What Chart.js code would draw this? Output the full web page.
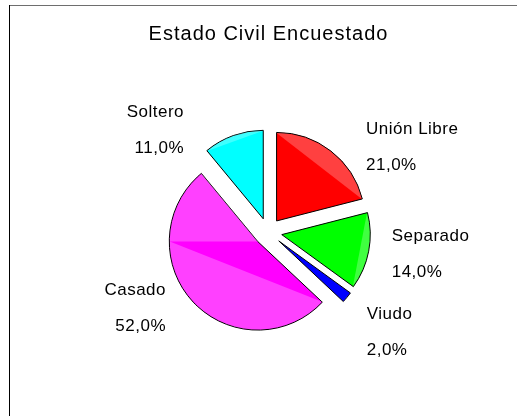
<!DOCTYPE html>
<html>
<head>
<meta charset="utf-8">
<script src="https://cdn.jsdelivr.net/npm/chart.js@4.4.0/dist/chart.umd.min.js"></script>
<style>
  html, body { margin: 0; padding: 0; background: #fff; }
  canvas { display: block; }
</style>
</head>
<body>
<canvas id="c" width="517" height="416"></canvas>
<script>
// Survey data: marital status of respondents (percent)
const categories = ['Unión Libre', 'Separado', 'Viudo', 'Casado', 'Soltero'];
const percentages = [21.0, 14.0, 2.0, 52.0, 11.0];
const sliceColors = ['#ff0000', '#00ff00', '#0000ff', '#ff00ff', '#00ffff'];
const chartTitle = 'Estado Civil Encuestado';

const FONT = '"Liberation Sans", Arial, Helvetica, sans-serif';
const fmtPct = v => v.toFixed(1).replace('.', ',') + '%';

// Thin frame around the plot (top edge grey, left edge black)
const framePlugin = {
  id: 'frame',
  beforeDraw(chart) {
    const ctx = chart.ctx;
    ctx.save();
    ctx.fillStyle = '#ffffff';
    ctx.fillRect(0, 0, chart.width, chart.height);
    ctx.lineWidth = 1;
    ctx.strokeStyle = '#6e6e6e';
    ctx.beginPath(); ctx.moveTo(9, 5.5); ctx.lineTo(chart.width, 5.5); ctx.stroke();
    ctx.strokeStyle = '#000000';
    ctx.beginPath(); ctx.moveTo(9.5, 5); ctx.lineTo(9.5, chart.height); ctx.stroke();
    ctx.restore();
  }
};

// Pulls every slice outward along its bisector and adds a light sheen band
const explodePlugin = {
  id: 'explode',
  beforeDatasetDraw(chart, args, opts) {
    const ctx = chart.ctx;
    const d = opts.distance;
    args.meta.data.forEach(arc => {
      const { x, y, startAngle, endAngle, outerRadius } =
        arc.getProps(['x', 'y', 'startAngle', 'endAngle', 'outerRadius'], true);
      const mid = (startAngle + endAngle) / 2;
      ctx.save();
      ctx.translate(Math.cos(mid) * d, Math.sin(mid) * d);
      arc.draw(ctx);
      const r = outerRadius - 0.5;
      ctx.fillStyle = opts.sheen;
      const split = Math.PI;
      const pieces = (startAngle < split && endAngle > split)
        ? [[startAngle, split, false], [split, endAngle, true]]
        : [[startAngle, endAngle, false]];
      pieces.forEach(([a0, a1, full]) => {
        ctx.beginPath();
        if (full) ctx.moveTo(x, y);
        else ctx.moveTo(x + Math.cos(a0) * r, y + Math.sin(a0) * r);
        ctx.arc(x, y, r, a0, a1);
        ctx.closePath();
        ctx.fill();
      });
      ctx.restore();
    });
    return false;
  }
};

// Category name and percentage placed beside each slice
const sliceLabelPlugin = {
  id: 'sliceLabels',
  afterDatasetsDraw(chart, args, opts) {
    const ctx = chart.ctx;
    const meta = chart.getDatasetMeta(0);
    const values = chart.data.datasets[0].data;
    ctx.save();
    ctx.font = opts.font;
    ctx.fillStyle = opts.color;
    ctx.letterSpacing = opts.letterSpacing;
    ctx.textBaseline = 'alphabetic';
    meta.data.forEach((arc, i) => {
      const [dx, dy] = opts.anchors[i];
      const ax = arc.x + dx, ay = arc.y + dy;
      ctx.textAlign = dx >= 0 ? 'left' : 'right';
      ctx.fillText(chart.data.labels[i], ax, ay - opts.lineGap / 2 + opts.capShift);
      ctx.fillText(fmtPct(values[i]), ax, ay + opts.lineGap / 2 + opts.capShift);
    });
    ctx.restore();
  }
};

// Heading centred over the pie
const headingPlugin = {
  id: 'heading',
  afterDraw(chart, args, opts) {
    const ctx = chart.ctx;
    const arc = chart.getDatasetMeta(0).data[0];
    ctx.save();
    ctx.font = opts.font;
    ctx.fillStyle = opts.color;
    ctx.letterSpacing = opts.letterSpacing;
    ctx.textAlign = 'center';
    ctx.textBaseline = 'alphabetic';
    ctx.fillText(opts.text, arc.x + 0.5, opts.baseline);
    ctx.restore();
  }
};

new Chart(document.getElementById('c'), {
  type: 'pie',
  data: {
    labels: categories,
    datasets: [{
      data: percentages,
      backgroundColor: sliceColors,
      borderColor: '#000000',
      borderWidth: 1,
      borderJoinStyle: 'miter',
      radius: 88.5
    }]
  },
  options: {
    responsive: false,
    animation: false,
    events: [],
    layout: { padding: { left: 29, right: 10, top: 58, bottom: 10 } },
    plugins: {
      legend: { display: false },
      tooltip: { enabled: false },
      title: { display: false },
      explode: { distance: 14, sheen: 'rgba(255,255,255,0.25)' },
      sliceLabels: {
        font: '17px ' + FONT,
        color: '#000000',
        letterSpacing: '0.5px',
        lineGap: 36,
        capShift: 6,
        anchors: [[98, -86.5], [123.7, 21], [98.7, 98.5], [-102, 75.2], [-84, -103]]
      },
      heading: {
        text: chartTitle,
        font: '20px ' + FONT,
        color: '#000000',
        letterSpacing: '1px',
        baseline: 39.5
      }
    }
  },
  plugins: [framePlugin, explodePlugin, sliceLabelPlugin, headingPlugin]
});
</script>
</body>
</html>
